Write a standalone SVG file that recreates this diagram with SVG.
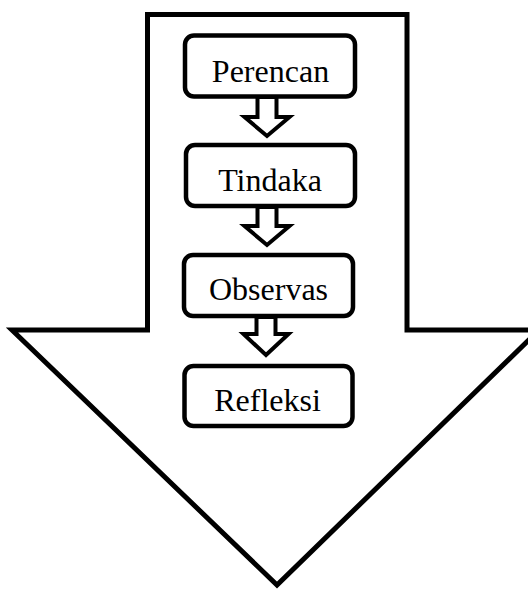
<svg xmlns="http://www.w3.org/2000/svg" width="528" height="590" viewBox="0 0 528 590">
<style>
.shape{fill:#fff;stroke:#000;stroke-width:5;stroke-linejoin:miter}
.box{fill:#fff;stroke:#000;stroke-width:4.5}
.arr{fill:#fff;stroke:#000;stroke-width:4;stroke-linejoin:miter}
.lbl{font-family:"Liberation Serif","Times New Roman",serif;font-size:32px;fill:#000;text-anchor:middle}
</style>
<rect width="528" height="590" fill="#fff"/>
<g id="big-arrow">
<polygon class="shape" points="147.5,14.5 407,14.5 407,330 539,330 277,585 12,330 147.5,330"/>
</g>
<g id="connectors">
<polygon class="arr" points="257.5,97 276.5,97 276.5,117 289.5,117 267,136 244.5,117 257.5,117"/>
<polygon class="arr" points="257.5,207 276.5,207 276.5,226 289.5,226 267,245 244.5,226 257.5,226"/>
<polygon class="arr" points="256.5,317 275.5,317 275.5,334 288.5,334 266,355 243.5,334 256.5,334"/>
</g>
<g id="perencan">
<rect class="box" x="185" y="35.5" width="170" height="61" rx="9"/>
<text class="lbl" x="270.5" y="82">Perencan</text>
</g>
<g id="tindaka">
<rect class="box" x="186" y="145" width="169" height="61" rx="9"/>
<text class="lbl" x="270" y="191">Tindaka</text>
</g>
<g id="observas">
<rect class="box" x="184" y="255" width="169" height="61" rx="9"/>
<text class="lbl" x="268.5" y="300">Observas</text>
</g>
<g id="refleksi">
<rect class="box" x="184.5" y="366" width="168" height="60" rx="9"/>
<text class="lbl" x="267.5" y="411">Refleksi</text>
</g>
</svg>
